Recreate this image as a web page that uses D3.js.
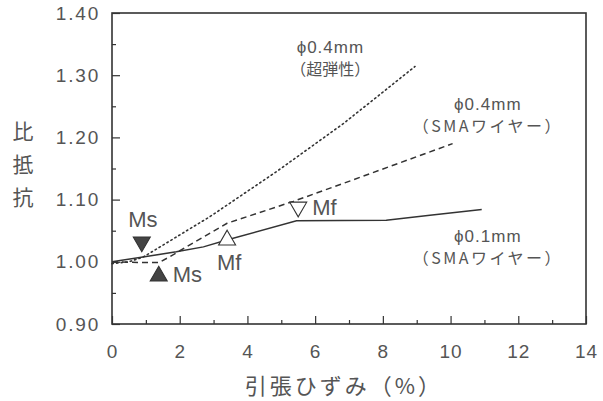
<!DOCTYPE html>
<html>
<head>
<meta charset="utf-8">
<script src="https://cdn.jsdelivr.net/npm/d3@7"></script>
<style>
  body { margin: 0; background: #fff; }
  svg { display: block; }
</style>
</head>
<body>
<svg id="chart"></svg>
<script>
// strain (%) vs relative resistance
const superX = [0, 0.5, 0.93, 1.42, 2.89, 4.86, 6.83, 8.95]
const superY = [0.997, 1.0, 1.008, 1.024, 1.0725, 1.145, 1.222, 1.314]

const sma04X = [0, 0.8, 1.4, 1.7, 2.2, 3.4, 5.35, 6.83, 10.06]
const sma04Y = [1.0, 0.999, 0.999, 1.008, 1.024, 1.062, 1.097, 1.126, 1.19]

const sma01X = [0, 1.9, 2.7, 3.39, 5.45, 8.1, 9.39, 10.92]
const sma01Y = [1.0, 1.016, 1.024, 1.035, 1.066, 1.067, 1.075, 1.084]

// transformation markers
const markX = [0.88, 1.38, 3.4, 5.5]
const markY = [1.032, 0.977, 1.035, 1.088]
const markLabel = ['Ms', 'Ms', 'Mf', 'Mf']
const markDown = [true, false, false, true]
const markFilled = [true, true, false, false]

const xTicks = [0, 2, 4, 6, 8, 10, 12, 14]
const yTicks = [0.9, 1.0, 1.1, 1.2, 1.3, 1.4]

const width = 603, height = 401
const mLeft = 112, mRight = 586, mTop = 13, mBottom = 324
const ink = '#333'
const textInk = '#555'
const latin = "'Liberation Sans', Arial, sans-serif"
const cjk = "'Noto Sans CJK JP', 'Liberation Sans', sans-serif"

const svg = d3.select('#chart').attr('width', width).attr('height', height)

const x = d3.scaleLinear().domain([0, 14]).range([mLeft, mRight])
const y = d3.scaleLinear().domain([0.9, 1.4]).range([mBottom, mTop])

// frame
svg.append('rect')
  .attr('x', mLeft).attr('y', mTop)
  .attr('width', mRight - mLeft).attr('height', mBottom - mTop)
  .attr('fill', 'none').attr('stroke', ink).attr('stroke-width', 1.6)

// inward ticks, major + minor
function styleAxis(g) {
  g.select('.domain').remove()
  g.selectAll('.tick line').attr('stroke', ink).attr('stroke-width', 1.2)
}
function styleLabels(g) {
  g.selectAll('text').attr('fill', textInk)
    .style('font-family', latin).style('font-size', '19px')
    .style('letter-spacing', '1px')
}
svg.append('g').attr('transform', `translate(0,${mBottom})`)
  .call(d3.axisBottom(x).tickValues(d3.range(1, 14, 2)).tickSize(-4).tickFormat(''))
  .call(styleAxis)
svg.append('g').attr('transform', `translate(0,${mBottom})`)
  .call(d3.axisBottom(x).tickValues(xTicks).tickSize(-8).tickPadding(21).tickFormat(d3.format('d')))
  .call(styleAxis)
  .call(styleLabels)

svg.append('g').attr('transform', `translate(${mLeft},0)`)
  .call(d3.axisLeft(y).tickValues(d3.range(0.95, 1.4, 0.1)).tickSize(-4).tickFormat(''))
  .call(styleAxis)
svg.append('g').attr('transform', `translate(${mLeft},0)`)
  .call(d3.axisLeft(y).tickValues(yTicks).tickSize(-8).tickPadding(12).tickFormat(d3.format('.2f')))
  .call(styleAxis)
  .call(styleLabels)
  .call(g => g.selectAll('text').style('letter-spacing', '1.8px'))

// curves
const line = d3.line().x(d => x(d[0])).y(d => y(d[1]))
const series = [
  { xs: superX, ys: superY, dash: '1.4,3.2', w: 1.6, cap: 'round' },
  { xs: sma04X, ys: sma04Y, dash: '6,4', w: 1.5, cap: 'butt' },
  { xs: sma01X, ys: sma01Y, dash: null, w: 1.5, cap: 'butt' }
]
series.forEach(s => {
  svg.append('path')
    .attr('d', line(d3.zip(s.xs, s.ys)))
    .attr('fill', 'none').attr('stroke', ink)
    .attr('stroke-width', s.w)
    .attr('stroke-linecap', s.cap)
    .attr('stroke-dasharray', s.dash)
})

// markers
const tri = d3.symbol().type(d3.symbolTriangle).size(125)
// label offsets (px) relative to marker centre
const labelOff = [[1, -15], [14, 6], [2, 30], [14, 8]]
const labelAnchor = ['middle', 'start', 'middle', 'start']
markX.forEach((mx, i) => {
  svg.append('path')
    .attr('d', tri())
    .attr('transform', `translate(${x(mx)},${y(markY[i])}) rotate(${markDown[i] ? 180 : 0})`)
    .attr('fill', markFilled[i] ? '#444' : '#fff')
    .attr('stroke', ink).attr('stroke-width', 1.1)
  svg.append('text')
    .attr('x', x(mx) + labelOff[i][0]).attr('y', y(markY[i]) + labelOff[i][1])
    .attr('text-anchor', labelAnchor[i])
    .attr('fill', textInk)
    .style('font-family', latin).style('font-size', '22px')
    .text(markLabel[i])
})

// curve annotations: a size line and a wire-type line under it
const notes = [
  { x: 6.45, y: 1.335, lines: ['\u03d50.4mm', '（超弾性）'], sp: 0 },
  { x: 11.1, y: 1.244, lines: ['\u03d50.4mm', '（SMAワイヤー）'], sp: 2.5 },
  { x: 11.1, y: 1.032, lines: ['\u03d50.1mm', '（SMAワイヤー）'], sp: 2.5 }
]
notes.forEach(n => {
  n.lines.forEach((l, i) => {
    svg.append('text')
      .attr('x', x(n.x)).attr('y', y(n.y) + i * 22)
      .attr('text-anchor', 'middle').attr('fill', textInk)
      .style('font-size', i ? '16px' : '17px')
      .style('font-family', i ? cjk : latin)
      .style('letter-spacing', (i ? n.sp : 1) + 'px')
      .text(l)
  })
})

// axis titles
svg.append('text')
  .attr('x', (mLeft + mRight) / 2 - 5).attr('y', 394)
  .attr('text-anchor', 'middle').attr('fill', textInk)
  .style('font-family', cjk).style('font-size', '22px')
  .style('letter-spacing', '3px')
  .text('引張ひずみ（%）')

svg.append('text')
  .attr('x', 23).attr('y', 170)
  .attr('text-anchor', 'middle').attr('fill', textInk)
  .style('font-family', cjk).style('font-size', '21px')
  .style('writing-mode', 'vertical-rl')
  .style('letter-spacing', '12px')
  .text('比抵抗')
</script>
</body>
</html>
